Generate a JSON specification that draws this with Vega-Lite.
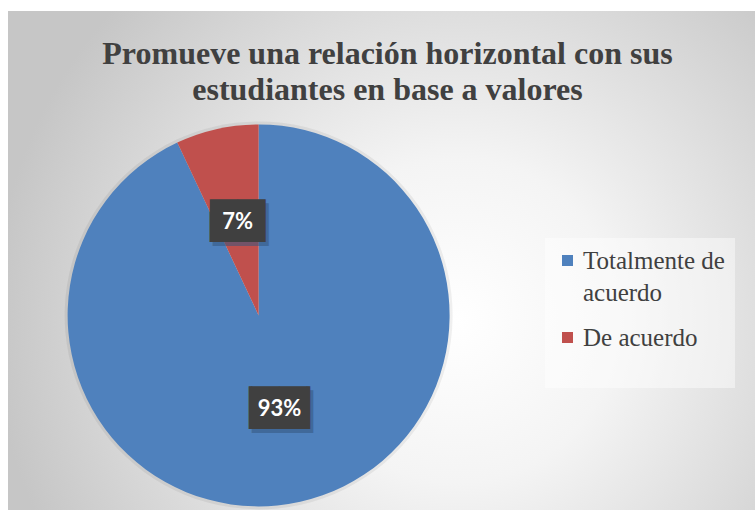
{
  "$schema": "https://vega.github.io/schema/vega-lite/v6.json",
  "autosize": {"type": "fit", "contains": "padding"},
  "width": 755,
  "height": 510,
  "padding": {"left": 8, "top": 11, "right": 0, "bottom": 0},
  "background": "white",
  "view": {
    "stroke": null,
    "fill": {
      "gradient": "radial",
      "x1": 0.6, "y1": 0.58, "r1": 0,
      "x2": 0.6, "y2": 0.58, "r2": 0.62,
      "stops": [
        {"offset": 0, "color": "#ffffff"},
        {"offset": 0.35, "color": "#f4f4f4"},
        {"offset": 1, "color": "#c6c6c6"}
      ]
    }
  },
  "title": {
    "text": ["Promueve una relación horizontal con sus", "estudiantes en base a valores"],
    "font": "Liberation Serif",
    "fontSize": 32,
    "fontWeight": "bold",
    "color": "#404040",
    "lineHeight": 36,
    "anchor": "middle",
    "dx": 6,
    "offset": -96
  },
  "data": {
    "values": [
      {"Respuesta": "Totalmente de acuerdo", "Porcentaje": 0.93},
      {"Respuesta": "De acuerdo", "Porcentaje": 0.07}
    ]
  },
  "encoding": {
    "theta": {"field": "Porcentaje", "type": "quantitative", "stack": true},
    "order": {"field": "Porcentaje", "sort": "descending"}
  },
  "layer": [
    {
      "mark": {"type": "arc", "radius": 194, "x": {"expr": "width * 0.3355"}, "y": {"expr": "height * 0.61"}, "fill": "#000000", "opacity": 0.06},
      "encoding": {}
    },
    {
      "mark": {"type": "arc", "radius": 191, "x": {"expr": "width * 0.3355"}, "y": {"expr": "height * 0.61"}},
      "encoding": {
        "color": {
          "field": "Respuesta",
          "type": "nominal",
          "scale": {"domain": ["Totalmente de acuerdo", "De acuerdo"], "range": ["#4F81BD", "#C0504D"]},
          "legend": {
            "title": " ",
            "titleOrient": "bottom",
            "titleFontSize": 14,
            "titlePadding": 13,
            "orient": "none",
            "legendX": 537,
            "legendY": 227,
            "fillColor": "rgba(255,255,255,0.45)",
            "padding": 10,
            "symbolType": "square",
            "symbolSize": 121,
            "symbolStrokeWidth": 0,
            "labelFont": "Liberation Serif",
            "labelFontSize": 25,
            "labelColor": "#404040",
            "labelOffset": 3,
            "labelLimit": 300,
            "rowPadding": 19,
            "labelExpr": "datum.label == 'Totalmente de acuerdo' ? ['Totalmente de', 'acuerdo'] : datum.label",
            "encode": {"labels": {"update": {"lineHeight": {"value": 32}}}}
          }
        }
      }
    },
    {
      "mark": {"type": "text", "radius": 96, "x": {"expr": "width * 0.3355"}, "y": {"expr": "height * 0.61"},
               "font": "DejaVu Sans", "fontSize": 36, "color": "#35577f", "opacity": 0.55, "dx": 3, "dy": 4, "align": "center", "baseline": "middle"},
      "encoding": {
        "text": {"condition": {"test": "datum.Porcentaje < 0.5", "value": "██"}, "value": "▕██▏"}
      }
    },
    {
      "mark": {"type": "text", "radius": 96, "x": {"expr": "width * 0.3355"}, "y": {"expr": "height * 0.61"},
               "font": "DejaVu Sans", "fontSize": 36, "color": "#404040", "align": "center", "baseline": "middle"},
      "encoding": {
        "text": {"condition": {"test": "datum.Porcentaje < 0.5", "value": "██"}, "value": "▕██▏"}
      }
    },
    {
      "mark": {"type": "text", "radius": 96, "x": {"expr": "width * 0.3355"}, "y": {"expr": "height * 0.61"},
               "font": "Lato", "fontSize": 22, "fontWeight": "bold", "color": "white", "align": "center", "baseline": "middle"},
      "encoding": {
        "text": {"field": "Porcentaje", "type": "quantitative", "format": ".0%"}
      }
    }
  ]
}
